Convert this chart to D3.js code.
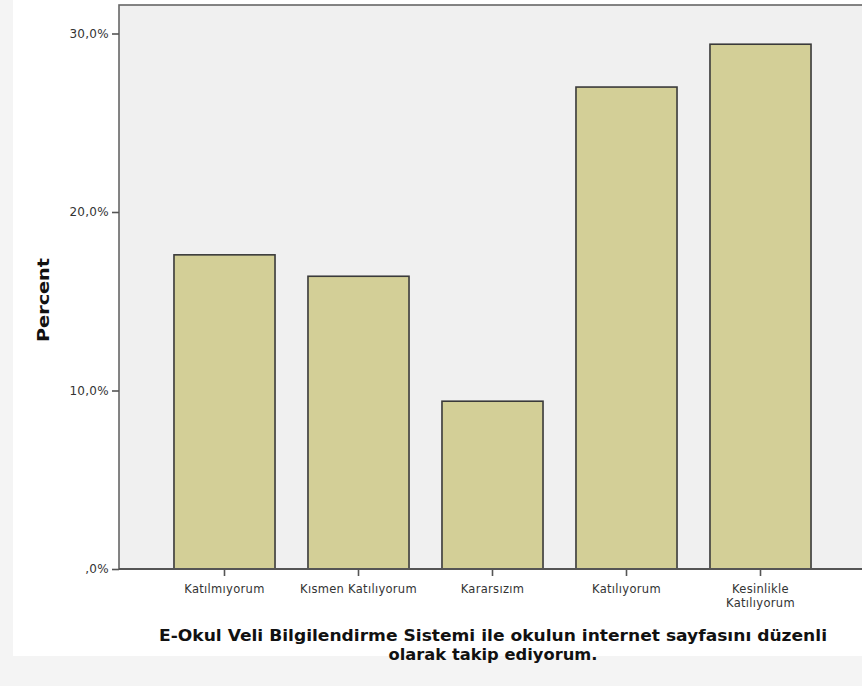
<!DOCTYPE html>
<html><head><meta charset="utf-8">
<script src="https://cdn.jsdelivr.net/npm/d3@7"></script>
<style>body{margin:0;background:#fff}</style>
</head><body>
<script>
const categories = ["Katılmıyorum","Kısmen Katılıyorum","Kararsızım","Katılıyorum","Kesinlikle Katılıyorum"];
const labelLines = [["Katılmıyorum"],["Kısmen Katılıyorum"],["Kararsızım"],["Katılıyorum"],["Kesinlikle","Katılıyorum"]];
const percents = [17.6, 16.4, 9.4, 27.0, 29.4];
const yTicks = [0, 10, 20, 30];
const yTickLabels = [",0%", "10,0%", "20,0%", "30,0%"];
const xTitle = ["E-Okul Veli Bilgilendirme Sistemi ile okulun internet sayfasını düzenli", "olarak takip ediyorum."];
const yTitle = "Percent";

const W = 862, H = 686;
const FONT = "'DejaVu Sans', Verdana, sans-serif";
const svg = d3.select("body").append("svg").attr("width", W).attr("height", H)
  .style("font-family", FONT);

// page frame
svg.append("rect").attr("x",0).attr("y",0).attr("width",W).attr("height",H).attr("fill","#f4f4f4");
svg.append("rect").attr("x",13).attr("y",0).attr("width",W-13).attr("height",656).attr("fill","#ffffff");

const plot = {left:119, top:5, right:870, bottom:569};
const x = d3.scaleBand().domain(categories).range([157.5, 827.5]).paddingInner(0.246).paddingOuter(0.123);
const y = d3.scaleLinear().domain([0, 31.6]).range([plot.bottom, plot.bottom - 31.6*17.85]);

svg.append("rect").attr("x",plot.left).attr("y",plot.top)
  .attr("width",plot.right-plot.left).attr("height",plot.bottom-plot.top)
  .attr("fill","#f0f0f0").attr("stroke","#666").attr("stroke-width",1.6);

svg.selectAll("rect.bar").data(percents).enter().append("rect").attr("class","bar")
  .attr("x",(d,i)=>x(categories[i])).attr("width",x.bandwidth())
  .attr("y",d=>y(d)).attr("height",d=>y(0)-y(d))
  .attr("fill","#d3cf97").attr("stroke","#3a3a3a").attr("stroke-width",1.6);

// y axis
const yAxis = d3.axisLeft(y).tickValues(yTicks).tickSize(7).tickPadding(3)
  .tickFormat((d,i)=>yTickLabels[i]);
const gy = svg.append("g").attr("transform",`translate(${plot.left},0)`).call(yAxis);
gy.select(".domain").remove();
gy.selectAll(".tick line").attr("stroke","#555").attr("stroke-width",1.6);
gy.selectAll(".tick text").attr("fill","#333").style("font-size","12px").style("font-family",FONT)
  .attr("letter-spacing","0.3px");

// x axis
const xAxis = d3.axisBottom(x).tickSize(7).tickPadding(4).tickFormat("");
const gx = svg.append("g").attr("transform",`translate(0,${plot.bottom})`).call(xAxis);
gx.select(".domain").remove();
gx.selectAll(".tick line").attr("stroke","#555").attr("stroke-width",1.6);
svg.append("line").attr("x1",plot.left).attr("x2",W).attr("y1",plot.bottom).attr("y2",plot.bottom)
  .attr("stroke","#555").attr("stroke-width",1.8);

const xl = svg.append("g").selectAll("text").data(categories).enter().append("text")
  .attr("x",d=>x(d)+x.bandwidth()/2).attr("y",593)
  .attr("text-anchor","middle").attr("fill","#333").style("font-size","11.5px")
  .attr("letter-spacing","0.3px");
xl.each(function(d,i){
  const t = d3.select(this);
  labelLines[i].forEach((ln,j)=>t.append("tspan").attr("x",x(d)+x.bandwidth()/2).attr("dy", j===0?0:13.5).text(ln));
});

// titles
const xtLens = [668, 209];
xTitle.forEach((ln,j)=>svg.append("text").attr("text-anchor","middle").attr("fill","#111")
  .style("font-size","15px").style("font-weight","bold")
  .attr("x",493).attr("y",641 + j*18.5)
  .attr("textLength", xtLens[j]).attr("lengthAdjust","spacingAndGlyphs").text(ln));

svg.append("text").attr("transform","translate(49,300) rotate(-90)")
  .attr("text-anchor","middle").attr("fill","#111")
  .style("font-size","15px").style("font-weight","bold")
  .attr("textLength",84).attr("lengthAdjust","spacingAndGlyphs").text(yTitle);
</script>
</body></html>
